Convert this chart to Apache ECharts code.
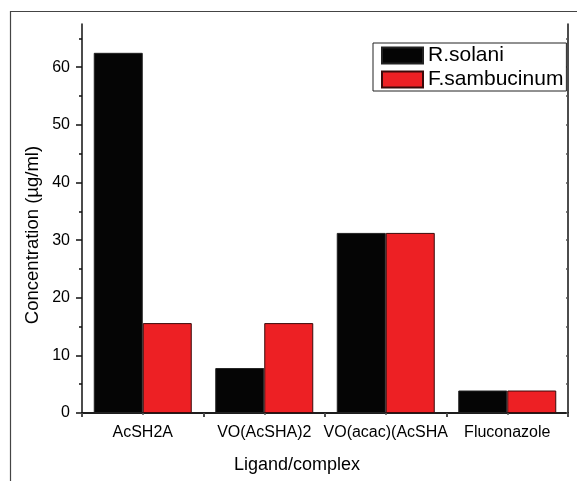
<!DOCTYPE html>
<html>
<head>
<meta charset="utf-8">
<script src="https://cdn.jsdelivr.net/npm/echarts@6/dist/echarts.min.js"></script>
<style>html,body{margin:0;padding:0;background:#fff}#c{width:577px;height:481px}</style>
</head>
<body>
<div id="c"></div>
<script>
var categories = ['AcSH2A', 'VO(AcSHA)2', 'VO(acac)(AcSHA', 'Fluconazole'];
var rSolani = [62.5, 7.8, 31.25, 3.9];
var fSambucinum = [15.6, 15.6, 31.25, 3.9];
var seriesNames = ['R.solani', 'F.sambucinum'];
var yMajor = [0, 10, 20, 30, 40, 50, 60];
var yMinor = [5, 15, 25, 35, 45, 55, 65];
var xTitle = 'Ligand/complex';
var yTitle = 'Concentration (µg/ml)';

var font = '"Liberation Sans", Arial, sans-serif';
var axisCol = '#111';
var chart = echarts.init(document.getElementById('c'), null, {renderer: 'canvas'});
chart.setOption({
  animation: false,
  backgroundColor: '#fff',
  grid: {left: 82, right: 9, top: 24, bottom: 68, containLabel: false},
  legend: {
    orient: 'vertical', left: 373, top: 43,
    padding: [2, 3, 1, 8],
    borderColor: '#222', borderWidth: 1,
    itemWidth: 41, itemHeight: 16, itemGap: 3,
    itemTextGap: 6,
    icon: 'rect',
    textStyle: {fontFamily: font, fontSize: 21, color: '#000', lineHeight: 20},
    data: seriesNames
  },
  xAxis: [
    {
      type: 'category', data: categories, position: 'bottom',
      axisLine: {lineStyle: {color: axisCol, width: 1.5}},
      axisTick: {alignWithLabel: true, length: 8, lineStyle: {color: axisCol, width: 1.5}},
      axisLabel: {fontFamily: font, fontSize: 16, color: '#000', margin: 12, interval: 0},
      splitLine: {show: false}
    },
    {
      type: 'value', min: 0, max: 4, interval: 1, position: 'bottom',
      axisLine: {show: false},
      axisTick: {show: true, length: 4, lineStyle: {color: axisCol, width: 1.5}},
      axisLabel: {show: false}, splitLine: {show: false}
    },
    {
      type: 'value', min: 0, max: 8, interval: 1, position: 'top',
      axisLine: {show: true, lineStyle: {color: axisCol, width: 1.5}},
      axisTick: {show: true, inside: true, length: 2, lineStyle: {color: '#555', width: 1.5}},
      axisLabel: {show: false}, splitLine: {show: false}
    }
  ],
  yAxis: [
    {
      type: 'value', min: 0, max: 67.5, position: 'left',
      axisLine: {show: true, lineStyle: {color: axisCol, width: 1.5}},
      axisTick: {show: true, length: 6, customValues: yMajor, lineStyle: {color: axisCol, width: 1.5}},
      axisLabel: {fontFamily: font, fontSize: 16, color: '#000', margin: 12, customValues: yMajor},
      splitLine: {show: false}
    },
    {
      type: 'value', min: 0, max: 67.5, position: 'left',
      axisLine: {show: false},
      axisTick: {show: true, length: 3, customValues: yMinor, lineStyle: {color: axisCol, width: 1.5}},
      axisLabel: {show: false}, splitLine: {show: false}
    },
    {
      type: 'value', min: 0, max: 67.5, position: 'right',
      axisLine: {show: true, lineStyle: {color: axisCol, width: 1.5}},
      axisTick: {show: true, inside: true, length: 2, customValues: yMajor.concat(yMinor), lineStyle: {color: '#555', width: 1.5}},
      axisLabel: {show: false}, splitLine: {show: false}
    }
  ],
  series: [
    {
      name: seriesNames[0], type: 'bar', data: rSolani, xAxisIndex: 0, yAxisIndex: 0,
      barWidth: 49, barGap: '0%',
      itemStyle: {color: '#050505', borderColor: '#222', borderWidth: 1}
    },
    {
      name: seriesNames[1], type: 'bar', data: fSambucinum, xAxisIndex: 0, yAxisIndex: 0,
      barWidth: 49, barGap: '0%',
      itemStyle: {color: '#ED2024', borderColor: '#3a0a0a', borderWidth: 1}
    }
  ],
  graphic: [
    {type: 'rect', silent: true, z: -1, shape: {x: 10.5, y: 11.5, width: 700, height: 600},
     style: {fill: null, stroke: '#444', lineWidth: 1.2}},
    {type: 'text', left: 300 - 66, top: 456,
     style: {text: xTitle, font: '18px ' + font, fill: '#000'}},
    {type: 'text', x: 33, y: 235, rotation: Math.PI / 2,
     style: {text: yTitle, font: '18.5px ' + font, fill: '#000', align: 'center', verticalAlign: 'middle'}}
  ]
});
</script>
</body>
</html>
